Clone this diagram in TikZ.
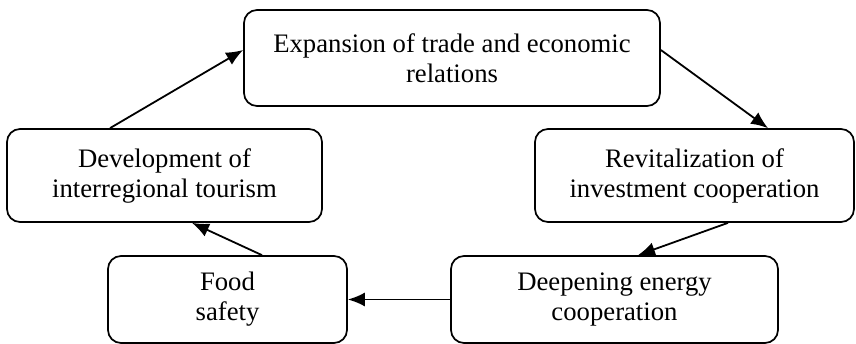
\documentclass[tikz,border=0pt]{standalone}
\usepackage{fontspec}
\setmainfont{Liberation Serif}
\usetikzlibrary{arrows.meta}
\tikzset{
    blk/.style={draw, rounded corners=13pt, line width=1.7pt, align=center,
        font=\fontsize{26.7}{30}\selectfont, inner sep=4pt},
    flow/.style={-{Latex[length=17pt,width=14pt]}, line width=1.8pt}
}
\begin{document}
\begin{tikzpicture}[x=1pt, y=-1pt]
        \useasboundingbox (0,0) rectangle (856,344);
        \node[blk, minimum width=416pt, minimum height=96pt] (trade) at (452,58) {Expansion of trade and economic\\relations};
        \node[blk, minimum width=315pt, minimum height=93pt] (tour) at (164.5,175.5) {Development of\\interregional tourism};
        \node[blk, minimum width=319pt, minimum height=93pt] (invest) at (694.5,175.5) {Revitalization of\\investment cooperation};
        \node[blk, minimum width=239pt, minimum height=87pt] (food) at (227.5,299.5) {Food\\safety};
        \node[blk, minimum width=327pt, minimum height=87pt] (deep) at (614.5,299.5) {Deepening energy\\cooperation};
        % cycle of arrows
        \draw[flow] ([xshift=-54.5pt]tour.north) -- ([yshift=8pt]trade.west);
        \draw[flow] ([yshift=8pt]trade.east) -- ([xshift=73.5pt]invest.north);
        \draw[flow] ([xshift=33.5pt]invest.south) -- ([xshift=23.5pt]deep.north);
        \draw[flow] (deep.west) -- (food.east);
        \draw[flow] ([xshift=34.5pt]food.north) -- ([xshift=27.5pt]tour.south);
    \end{tikzpicture}
\end{document}
